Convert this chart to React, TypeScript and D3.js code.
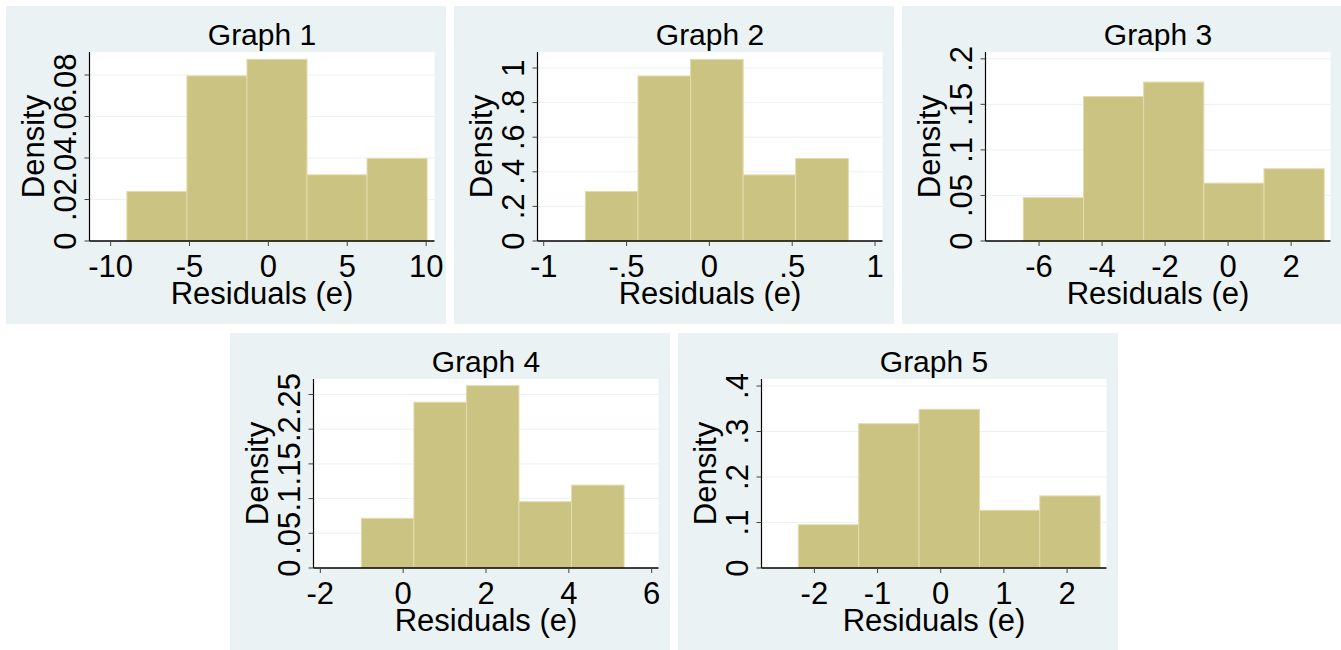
import * as d3 from 'd3'

// panel titles
const titles = ['Graph 1', 'Graph 2', 'Graph 3', 'Graph 4', 'Graph 5']

// histogram bin edges and densities
const edges1 = [-8.97, -5.164, -1.358, 2.448, 6.254, 10.06]
const dens1 = [0.0239, 0.0796, 0.0876, 0.0319, 0.0398]
const edges2 = [-0.749, -0.431, -0.114, 0.204, 0.521, 0.839]
const dens2 = [0.286, 0.954, 1.05, 0.382, 0.477]
const edges3 = [-6.5, -4.59, -2.68, -0.77, 1.14, 3.05]
const dens3 = [0.0476, 0.1586, 0.1745, 0.0635, 0.0793]
const edges4 = [-1.01, 0.259, 1.528, 2.796, 4.065, 5.334]
const dens4 = [0.0716, 0.2388, 0.2627, 0.0955, 0.1194]
const edges5 = [-2.254, -1.298, -0.343, 0.613, 1.568, 2.524]
const dens5 = [0.0951, 0.3171, 0.3488, 0.1268, 0.1585]

// axis extents
const xRange1 = [-11.34, 10.53]
const xRange2 = [-1.0375, 1.045]
const xRange3 = [-7.7, 3.25]
const xRange4 = [-2.165, 6.165]
const xRange5 = [-2.837, 2.624]
const yTop = [0.0911, 1.0925, 0.2075, 0.2723, 0.4154]

// tick values and labels
const xTicks1 = [-10, -5, 0, 5, 10]
const xLabels1 = ['-10', '-5', '0', '5', '10']
const xTicks2 = [-1, -0.5, 0, 0.5, 1]
const xLabels2 = ['-1', '-.5', '0', '.5', '1']
const xTicks3 = [-6, -4, -2, 0, 2]
const xLabels3 = ['-6', '-4', '-2', '0', '2']
const xTicks4 = [-2, 0, 2, 4, 6]
const xLabels4 = ['-2', '0', '2', '4', '6']
const xTicks5 = [-2, -1, 0, 1, 2]
const xLabels5 = ['-2', '-1', '0', '1', '2']

const yTicks1 = [0, 0.02, 0.04, 0.06, 0.08]
const yLabels1 = ['0', '.02', '.04', '.06', '.08']
const yTicks2 = [0, 0.2, 0.4, 0.6, 0.8, 1]
const yLabels2 = ['0', '.2', '.4', '.6', '.8', '1']
const yTicks3 = [0, 0.05, 0.1, 0.15, 0.2]
const yLabels3 = ['0', '.05', '.1', '.15', '.2']
const yTicks4 = [0, 0.05, 0.1, 0.15, 0.2, 0.25]
const yLabels4 = ['0', '.05', '.1', '.15', '.2', '.25']
const yTicks5 = [0, 0.1, 0.2, 0.3, 0.4]
const yLabels5 = ['0', '.1', '.2', '.3', '.4']

const panels = [
  { edges: edges1, dens: dens1, xRange: xRange1, xTicks: xTicks1, xLabels: xLabels1, yTicks: yTicks1, yLabels: yLabels1, x: 6, y: 6 },
  { edges: edges2, dens: dens2, xRange: xRange2, xTicks: xTicks2, xLabels: xLabels2, yTicks: yTicks2, yLabels: yLabels2, x: 454, y: 6 },
  { edges: edges3, dens: dens3, xRange: xRange3, xTicks: xTicks3, xLabels: xLabels3, yTicks: yTicks3, yLabels: yLabels3, x: 902, y: 6 },
  { edges: edges4, dens: dens4, xRange: xRange4, xTicks: xTicks4, xLabels: xLabels4, yTicks: yTicks4, yLabels: yLabels4, x: 230, y: 333 },
  { edges: edges5, dens: dens5, xRange: xRange5, xTicks: xTicks5, xLabels: xLabels5, yTicks: yTicks5, yLabels: yLabels5, x: 678, y: 333 },
]

const W = 1341
const H = 650
const panelW = 440
const panelH = 318
const plot = { left: 83.5, right: 428.5, top: 46, bottom: 235 }
const font = 'Liberation Sans, Arial, Helvetica, sans-serif'
const bg = '#eaf2f3'
const barFill = '#cbc382'
const barStroke = '#e2dcab'

const Panel = ({ p, i }: { p: any; i: number }) => {
  const x = d3.scaleLinear().domain(p.xRange).range([plot.left, plot.right])
  const y = d3.scaleLinear().domain([0, yTop[i]]).range([plot.bottom, plot.top])
  const cx = (plot.left + plot.right) / 2
  const cy = (plot.top + plot.bottom) / 2
  const bins = p.dens.map((d: number, k: number) => ({ x0: p.edges[k], x1: p.edges[k + 1], d }))

  return (
    <g transform={`translate(${p.x},${p.y})`}>
      <rect x={0} y={0} width={panelW} height={panelH} fill={bg} />
      <rect x={plot.left} y={plot.top} width={plot.right - plot.left} height={plot.bottom - plot.top} fill="#fff" />
      {p.yTicks.filter((t: number) => t > 0).map((t: number) => (
        <line key={t} x1={plot.left} x2={plot.right} y1={y(t)} y2={y(t)} stroke={bg} strokeWidth={1} />
      ))}
      {bins.map((b: any, k: number) => (
        <rect key={k} x={x(b.x0)} y={y(b.d)} width={x(b.x1) - x(b.x0)} height={y(0) - y(b.d)}
          fill={barFill} stroke={barStroke} strokeWidth={1} />
      ))}
      <line x1={plot.left} x2={plot.left} y1={plot.top} y2={plot.bottom} stroke="#000" strokeWidth={1.2} />
      <line x1={plot.left} x2={plot.right} y1={plot.bottom} y2={plot.bottom} stroke="#000" strokeWidth={1.5} />
      {p.yTicks.map((t: number, k: number) => (
        <g key={t}>
          <line x1={plot.left - 5} x2={plot.left} y1={y(t)} y2={y(t)} stroke="#444" strokeWidth={1} />
          <text transform={`translate(${plot.left - 14},${y(t)}) rotate(-90)`} textAnchor="middle"
            fontFamily={font} fontSize={31} fill="#000">{p.yLabels[k]}</text>
        </g>
      ))}
      {p.xTicks.map((t: number, k: number) => (
        <g key={t}>
          <line x1={x(t)} x2={x(t)} y1={plot.bottom} y2={plot.bottom + 5} stroke="#444" strokeWidth={1} />
          <text x={x(t)} y={plot.bottom + 36} textAnchor="middle" fontFamily={font} fontSize={31} fill="#000">
            {p.xLabels[k]}
          </text>
        </g>
      ))}
      <text x={cx} y={plot.bottom + 63} textAnchor="middle" fontFamily={font} fontSize={31} fill="#000">
        Residuals (e)
      </text>
      <text transform={`translate(${plot.left - 45.5},${cy}) rotate(-90)`} textAnchor="middle"
        fontFamily={font} fontSize={31} fill="#000">Density</text>
      <text x={cx} y={39} textAnchor="middle" fontFamily={font} fontSize={30} fill="#000">{titles[i]}</text>
    </g>
  )
}

export default function App() {
  return (
    <svg width={W} height={H} style={{ position: 'absolute', left: 0, top: 0, background: '#fff' }}>
      {panels.map((p, i) => <Panel key={i} p={p} i={i} />)}
    </svg>
  )
}
